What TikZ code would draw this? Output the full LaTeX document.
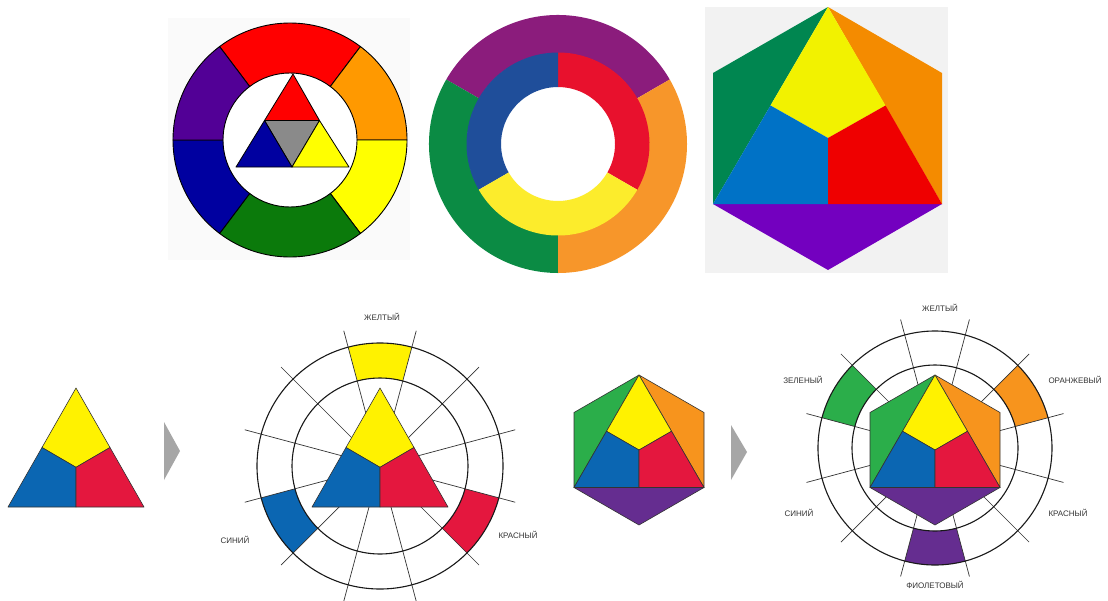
\documentclass[tikz,border=0pt]{standalone}
\usepackage{fontspec}
\setmainfont{Liberation Sans}
\begin{document}
\begin{tikzpicture}[x=1pt,y=-1pt,
  lbl/.style={font=\fontsize{8}{9}\selectfont, text=black!80, inner sep=0pt},
  spoke/.style={draw=black!80, line width=0.7pt},
  ringline/.style={draw=black!90, line width=1.1pt},
  edge/.style={draw=black!80, line width=0.6pt, line join=round},
  grayarrow/.style={fill=black!35},
]
\definecolor{pA}{HTML}{FF0000}
\definecolor{oA}{HTML}{FF9900}
\definecolor{yA}{HTML}{FFFF00}
\definecolor{gA}{HTML}{0B7A0B}
\definecolor{bA}{HTML}{0000A0}
\definecolor{vA}{HTML}{520096}
\definecolor{grA}{HTML}{8A8A8A}
\definecolor{vB}{HTML}{8B1C7C}
\definecolor{gB}{HTML}{0B8B44}
\definecolor{oB}{HTML}{F7962A}
\definecolor{bB}{HTML}{1F4E9A}
\definecolor{rB}{HTML}{E8112D}
\definecolor{yB}{HTML}{FCEC2C}
\definecolor{gC}{HTML}{008650}
\definecolor{yC}{HTML}{F2F200}
\definecolor{oC}{HTML}{F48B00}
\definecolor{bC}{HTML}{0072C6}
\definecolor{rC}{HTML}{EF0000}
\definecolor{vC}{HTML}{7300BF}
\definecolor{yD}{HTML}{FFF200}
\definecolor{bD}{HTML}{0B66B2}
\definecolor{rD}{HTML}{E4173E}
\definecolor{gD}{HTML}{2BAE4A}
\definecolor{oD}{HTML}{F7941D}
\definecolor{vD}{HTML}{652D90}
\useasboundingbox (0,0) rectangle (1108,600);
\fill[white] (0,0) rectangle (1108,600);

% ---------- Panel 1 ----------
\fill[black!2] (168,18) rectangle (410,260);
\begin{scope}[shift={(290,140)}, yscale=-1]
  \fill[white] (0,0) circle[radius=67];
  \foreach \a/\b/\c in {53/127/pA, 0/53/oA, -53/0/yA, -127/-53/gA, 180/233/bA, 127/180/vA}{
    \filldraw[fill=\c, draw=black, line width=0.9pt]
      (\a:67) -- (\a:117) arc[start angle=\a, end angle=\b, radius=117]
      -- (\b:67) arc[start angle=\b, end angle=\a, radius=67] -- cycle;
  }
\end{scope}
\filldraw[fill=pA, draw=black, line width=0.8pt, line join=round] (293,74) -- (319.5,120.5) -- (264.5,120.5) -- cycle;
\filldraw[fill=grA, draw=black, line width=0.8pt, line join=round] (264.5,120.5) -- (319.5,120.5) -- (292,167) -- cycle;
\filldraw[fill=bA, draw=black, line width=0.8pt, line join=round] (264.5,120.5) -- (292,167) -- (236,167) -- cycle;
\filldraw[fill=yA, draw=black, line width=0.8pt, line join=round] (319.5,120.5) -- (349,167) -- (292,167) -- cycle;

% ---------- Panel 2 ----------
\begin{scope}[shift={(558,144)}, yscale=-1]
  \foreach \a/\b/\c in {30/150/vB, 150/270/gB, 270/390/oB}{
    \fill[\c] (\a:91) -- (\a:129) arc[start angle=\a, end angle=\b, radius=129]
      -- (\b:91) arc[start angle=\b, end angle=\a, radius=91] -- cycle;
  }
  \foreach \a/\b/\c in {-30/90/rB, 90/210/bB, 210/330/yB}{
    \fill[\c] (\a:57) -- (\a:91.5) arc[start angle=\a, end angle=\b, radius=91.5]
      -- (\b:57) arc[start angle=\b, end angle=\a, radius=57] -- cycle;
  }
\end{scope}

% ---------- Panel 3 ----------
\fill[black!5] (705,7) rectangle (948,273);
\fill[gC] (828,7) -- (713,73) -- (713,204) -- cycle;
\fill[oC] (828,7) -- (942,73) -- (942,204) -- cycle;
\fill[vC] (713,204) -- (828,270) -- (942,204) -- cycle;
\fill[yC] (828,7) -- (770.5,105.5) -- (828,138) -- (885.5,105.5) -- cycle;
\fill[bC] (770.5,105.5) -- (828,138) -- (828,204) -- (713,204) -- cycle;
\fill[rC] (885.5,105.5) -- (828,138) -- (828,204) -- (942,204) -- cycle;

% ---------- Panel 4 ----------
\filldraw[fill=yD, edge] (76,388) -- (110,447.5) -- (76,467.3) -- (42,447.5) -- cycle;
\filldraw[fill=bD, edge] (42,447.5) -- (76,467.3) -- (76,507) -- (8,507) -- cycle;
\filldraw[fill=rD, edge] (110,447.5) -- (76,467.3) -- (76,507) -- (144,507) -- cycle;

% arrows
\fill[grayarrow] (164,422) -- (180,451) -- (164,480) -- cycle;
\fill[grayarrow] (731,425) -- (747,452) -- (731,480) -- cycle;

% ---------- Panel 5 ----------
\begin{scope}[shift={(380,466)}, yscale=-1]
  \foreach \a/\c in {75/yD, 195/bD, 315/rD}{
    \pgfmathsetmacro{\b}{\a+30}
    \fill[\c] (\a:88) -- (\a:123) arc[start angle=\a, end angle=\b, radius=123]
      -- (\b:88) arc[start angle=\b, end angle=\a, radius=88] -- cycle;
  }
  \foreach \a in {15,45,...,345}{ \draw[spoke] (0,0) -- (\a:140); }
  \draw[ringline] (0,0) circle[radius=123];
  \draw[ringline] (0,0) circle[radius=88];
\end{scope}
\filldraw[fill=yD, edge] (380,388) -- (414,447.5) -- (380,467.3) -- (346,447.5) -- cycle;
\filldraw[fill=bD, edge] (346,447.5) -- (380,467.3) -- (380,507) -- (312,507) -- cycle;
\filldraw[fill=rD, edge] (414,447.5) -- (380,467.3) -- (380,507) -- (448,507) -- cycle;
\node[lbl] (l5y) at (382,317) {ЖЕЛТЫЙ};
\node[lbl] (l5b) at (235,540) {СИНИЙ};
\node[lbl] (l5r) at (518,535) {КРАСНЫЙ};

% ---------- Panel 6 ----------
\begin{scope}[shift={(639,450)}]
  \filldraw[fill=gD, edge] (0,-75) -- (-65,-37.5) -- (-65,37.5) -- cycle;
  \filldraw[fill=oD, edge] (0,-75) -- (65,-37.5) -- (65,37.5) -- cycle;
  \filldraw[fill=vD, edge] (-65,37.5) -- (0,75) -- (65,37.5) -- cycle;
  \filldraw[fill=yD, edge] (0,-75) -- (32.5,-18.75) -- (0,0) -- (-32.5,-18.75) -- cycle;
  \filldraw[fill=bD, edge] (-32.5,-18.75) -- (0,0) -- (0,37.5) -- (-65,37.5) -- cycle;
  \filldraw[fill=rD, edge] (32.5,-18.75) -- (0,0) -- (0,37.5) -- (65,37.5) -- cycle;
\end{scope}

% ---------- Panel 7 ----------
\begin{scope}[shift={(935,448)}, yscale=-1]
  \foreach \a/\c in {15/oD, 135/gD, 255/vD}{
    \pgfmathsetmacro{\b}{\a+30}
    \fill[\c] (\a:83) -- (\a:117) arc[start angle=\a, end angle=\b, radius=117]
      -- (\b:83) arc[start angle=\b, end angle=\a, radius=83] -- cycle;
  }
  \foreach \a in {15,45,...,345}{ \draw[spoke] (0,0) -- (\a:133); }
  \draw[ringline] (0,0) circle[radius=117];
  \draw[ringline] (0,0) circle[radius=83];
\end{scope}
\begin{scope}[shift={(935,450)}]
  \filldraw[fill=gD, edge] (0,-75) -- (-65,-37.5) -- (-65,37.5) -- cycle;
  \filldraw[fill=oD, edge] (0,-75) -- (65,-37.5) -- (65,37.5) -- cycle;
  \filldraw[fill=vD, edge] (-65,37.5) -- (0,75) -- (65,37.5) -- cycle;
  \filldraw[fill=yD, edge] (0,-75) -- (32.5,-18.75) -- (0,0) -- (-32.5,-18.75) -- cycle;
  \filldraw[fill=bD, edge] (-32.5,-18.75) -- (0,0) -- (0,37.5) -- (-65,37.5) -- cycle;
  \filldraw[fill=rD, edge] (32.5,-18.75) -- (0,0) -- (0,37.5) -- (65,37.5) -- cycle;
\end{scope}
\node[lbl] (l7y) at (940,308) {ЖЕЛТЫЙ};
\node[lbl] (l7g) at (803,380) {ЗЕЛЕНЫЙ};
\node[lbl] (l7o) at (1075,380) {ОРАНЖЕВЫЙ};
\node[lbl] (l7b) at (799,513) {СИНИЙ};
\node[lbl] (l7r) at (1068,513) {КРАСНЫЙ};
\node[lbl] (l7v) at (935,585) {ФИОЛЕТОВЫЙ};
\end{tikzpicture}
\end{document}
